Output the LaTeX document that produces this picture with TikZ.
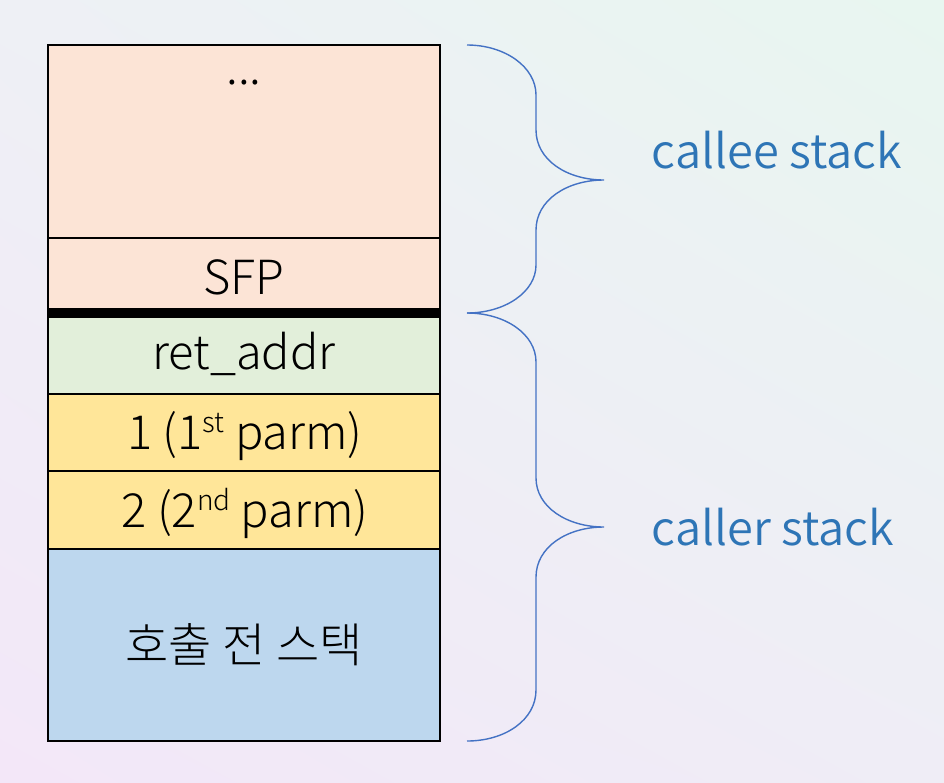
\documentclass[tikz,border=0pt]{standalone}
\usepackage{fontspec}
\usetikzlibrary{shadings}
\setmainfont{Noto Sans CJK KR}
\newfontfamily\lightcjk{Noto Sans CJK KR Light}
\newfontfamily\demicjk{Noto Sans CJK KR DemiLight}
\definecolor{peach}{HTML}{FCE4D6}
\definecolor{mint}{HTML}{E2EFDA}
\definecolor{gold}{HTML}{FFE699}
\definecolor{sky}{HTML}{BDD7EE}
\definecolor{bracecol}{HTML}{4472C4}
\definecolor{labelcol}{HTML}{2E75B6}
\definecolor{bgA}{HTML}{F3E7F8}
\definecolor{bgB}{HTML}{E8F6F0}
\definecolor{bgC}{HTML}{EEF0F5}
\definecolor{bgD}{HTML}{EFEDF6}
\newcommand{\supx}[1]{\raisebox{17pt}{\fontsize{28}{28}\selectfont #1}}
\tikzset{
  cell/.style={draw=black, line width=2pt},
  celltext/.style={font=\lightcjk\fontsize{47}{50}\selectfont, inner sep=0pt},
  lbl/.style={font=\demicjk\fontsize{47}{50}\selectfont, text=labelcol, inner sep=0pt},
  brace/.style={draw=bracecol, line width=1.4pt}
}
\begin{document}
\begin{tikzpicture}[x=1pt,y=-1pt]
\useasboundingbox (0,0) rectangle (944,782);
\shade[lower left=bgA, upper right=bgB, upper left=bgC, lower right=bgD] (0,782) rectangle (944,0);
% cells
\filldraw[cell, fill=peach] (48,45) rectangle (440,238);
\filldraw[cell, fill=peach] (48,238) rectangle (440,313);
\filldraw[cell, fill=mint] (48,313) rectangle (440,394);
\filldraw[cell, fill=gold] (48,394) rectangle (440,471);
\filldraw[cell, fill=gold] (48,471) rectangle (440,549);
\filldraw[cell, fill=sky] (48,549) rectangle (440,741);
\draw[line width=10pt] (48,313) -- (440,313);
% texts
\node[celltext] (dots) at (244,83) {...};
\node[celltext] (sfp) at (244,277) {SFP};
\node[celltext] (ret) at (244,354) {ret\_addr};
\node[celltext, anchor=base] (p1) at (245,449) {1 (1\supx{st} parm)};
\node[celltext, anchor=base] (p2) at (245,527) {2 (2\supx{nd} parm)};
\node[celltext] (pre) at (244,645) {호출 전 스택};
% braces
\coordinate (t1) at (467,45);
\coordinate (t2) at (604,180);
\coordinate (t3) at (467,313);
\coordinate (t4) at (604,527);
\coordinate (t5) at (467,741);
\draw[brace] (t1) .. controls (505,45) and (536,67) .. (536,95) -- (536,130)
  .. controls (536,160) and (567,180) .. (t2)
  .. controls (567,180) and (536,200) .. (536,230) -- (536,265)
  .. controls (536,292) and (505,313) .. (t3);
\draw[brace] (t3) .. controls (505,313) and (536,334) .. (536,362) -- (536,478)
  .. controls (536,507) and (567,527) .. (t4)
  .. controls (567,527) and (536,547) .. (536,577) -- (536,690)
  .. controls (536,720) and (505,741) .. (t5);
\node[lbl] (callee) at (777,150) {callee stack};
\node[lbl] (caller) at (773,527) {caller stack};
\end{tikzpicture}
\end{document}
